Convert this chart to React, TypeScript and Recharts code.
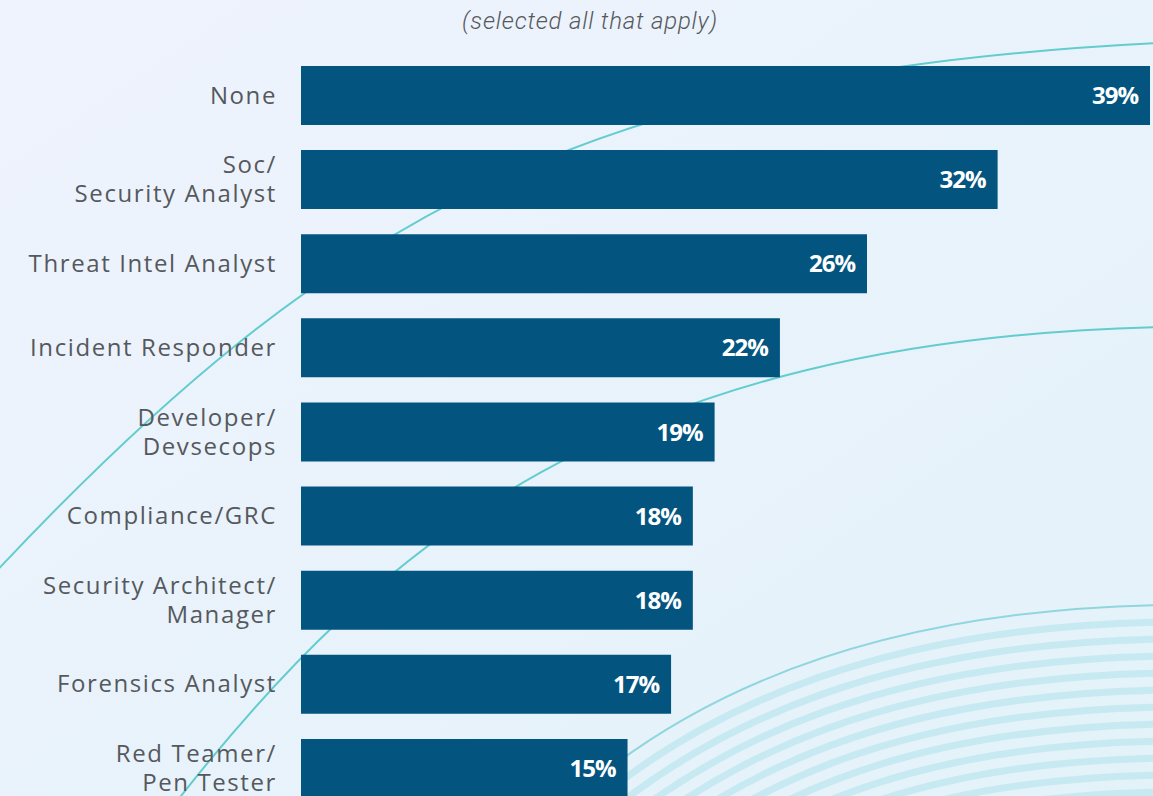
import React from "react";
import { BarChart, Bar, XAxis, YAxis, LabelList } from "recharts";

const categories = [
  "None",
  "Soc/\nSecurity Analyst",
  "Threat Intel Analyst",
  "Incident Responder",
  "Developer/\nDevsecops",
  "Compliance/GRC",
  "Security Architect/\nManager",
  "Forensics Analyst",
  "Red Teamer/\nPen Tester",
];
const values = [39, 32, 26, 22, 19, 18, 18, 17, 15];
const titleText = "(selected all that apply)";

const data = categories.map((c, i) => ({ role: c, pct: values[i] }));

const TickLabel = (props: any) => {
  const { x, y, payload } = props;
  const lines = String(payload.value).split("\n");
  const lh = 29;
  const startY = y - ((lines.length - 1) * lh) / 2;
  const tx = x - 24;
  return (
    <text
      x={tx}
      y={startY}
      textAnchor="end"
      fill="#55595d"
      style={{ fontFamily: "'Open Sans', sans-serif", fontSize: 24, letterSpacing: 1.6 }}
    >
      {lines.map((l: string, i: number) => (
        <tspan key={i} x={tx} dy={i === 0 ? "0.36em" : lh}>
          {l}
        </tspan>
      ))}
    </text>
  );
};

const ValueLabel = (props: any) => {
  const { x, y, width, height, value } = props;
  return (
    <text
      x={x + width - 12}
      y={y + height / 2}
      dy="0.36em"
      textAnchor="end"
      fill="#ffffff"
      style={{ fontFamily: "'Open Sans', sans-serif", fontSize: 24, fontWeight: 700, letterSpacing: -1 }}
    >
      {value}%
    </text>
  );
};

const stripes = Array.from({ length: 13 }, (_, i) => i + 1);

const Background = () => (
  <svg width={1153} height={796} style={{ position: "absolute", left: 0, top: 0 }}>
    <defs>
      <linearGradient id="bg" x1="0" y1="0" x2="1" y2="1">
        <stop offset="0%" stopColor="#eff3fd" />
        <stop offset="100%" stopColor="#e3f2f9" />
      </linearGradient>
    </defs>
    <rect x={0} y={0} width={1153} height={796} fill="url(#bg)" />
    {stripes.map((i) => (
      <path
        key={i}
        d={`M ${560 + i * 6} ${810 + i * 17} C ${700 + i * 6} ${680 + i * 17}, ${900} ${610 + i * 17}, 1160 ${605 + i * 17}`}
        fill="none"
        stroke="#c3e8ef"
        strokeWidth={7}
        opacity={0.9}
      />
    ))}
    <path d="M 560 810 C 700 680, 900 610, 1160 605" fill="none" stroke="#8fd6de" strokeWidth={2} />
    <path d="M -10 578 C 335 209, 595 71, 1160 43" fill="none" stroke="#62cccf" strokeWidth={2} />
    <path d="M 170 810 C 380 540, 620 340, 1160 327" fill="none" stroke="#62cccf" strokeWidth={2} />
  </svg>
);

export default function App() {
  return (
    <div
      style={{
        position: "absolute",
        left: 0,
        top: 0,
        width: 1153,
        height: 796,
        overflow: "hidden",
      }}
    >
      <Background />
      <div
        style={{
          position: "absolute",
          left: 0,
          top: 7,
          width: 1180,
          textAlign: "center",
          fontFamily: "Roboto, sans-serif",
          fontStyle: "italic",
          fontWeight: 300,
          fontSize: 24,
          letterSpacing: 0.8,
          color: "#55595d",
        }}
      >
        {titleText}
      </div>
      <div style={{ position: "absolute", left: 0, top: 0 }}>
        <BarChart
          width={1153}
          height={830}
          data={data}
          layout="vertical"
          margin={{ top: 53, right: 3, bottom: 20, left: 0 }}
          barSize={59}
        >
          <XAxis type="number" domain={[0, 39]} hide />
          <YAxis
            type="category"
            dataKey="role"
            width={301}
            axisLine={false}
            tickLine={false}
            tickSize={0}
            tickMargin={0}
            interval={0}
            tick={<TickLabel />}
          />
          <Bar dataKey="pct" fill="#03557f" isAnimationActive={false}>
            <LabelList dataKey="pct" content={<ValueLabel />} />
          </Bar>
        </BarChart>
      </div>
    </div>
  );
}
